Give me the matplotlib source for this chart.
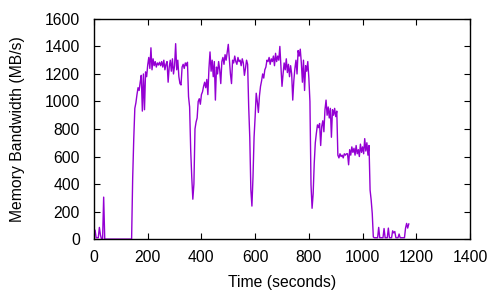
import matplotlib
matplotlib.use('Agg')
import matplotlib.pyplot as plt
import numpy as np

plt.rcParams['font.family'] = ['Liberation Sans', 'DejaVu Sans']

# memory bandwidth samples (MB/s), one sample every 4 seconds
step = 4
bw = [
    65, 65, 10, 10, 10, 85, 30, 0, 0, 305,                                  # 0-36
    0, 0, 0, 0, 0, 0, 0, 0, 0, 0,                                           # 40-76
    0, 0, 0, 0, 0, 0, 0, 0, 0, 0,                                           # 80-116
    0, 0, 0, 0, 0, 0,                                                       # 120-140
    441, 727, 950, 990, 1050, 1100, 1080, 1140, 1190, 930,                  # 144-180
    1200, 940, 1215, 1180, 1265, 1320, 1240, 1390, 1230, 1310,              # 184-220
    1260, 1290, 1250, 1280, 1265, 1285, 1260, 1290, 1250, 1300,             # 224-260
    1230, 1270, 1290, 1140, 1250, 1300, 1220, 1310, 1200, 1260,             # 264-300
    1420, 1230, 1300, 1180, 1130, 1120, 1250, 1270, 1240, 1280,             # 304-340
    1260, 1285, 1035, 960, 650, 450, 290, 400, 800, 850,                    # 344-380
    880, 1000, 1020, 980, 1050, 1070, 1110, 1140, 1100, 1160,               # 384-420
    1050, 1240, 1360, 1220, 1300, 1180, 1290, 1010, 1250, 1200,             # 424-460
    1290, 1230, 1130, 1290, 1320, 1270, 1340, 1300, 1360, 1415,             # 464-500
    1310, 1200, 1130, 1300, 1280, 1330, 1290, 1270, 1320, 1290,             # 504-540
    1300, 1260, 1310, 1280, 1190, 1240, 1300, 1270, 960, 740,               # 544-580
    360, 240, 450, 740, 890, 1060, 1000, 920, 1040, 1110,                   # 584-620
    1150, 1200, 1170, 1230, 1250, 1300, 1290, 1320, 1270, 1310,             # 624-660
    1290, 1330, 1260, 1350, 1290, 1330, 1300, 1400, 1250, 1110,             # 664-700
    1200, 1280, 1230, 1310, 1210, 1270, 1180, 1260, 1200, 1010,             # 704-740
    1150, 1240, 1300, 1200, 1370, 1330, 1380, 1280, 1140, 1300,             # 744-780
    1080, 1260, 1220, 1290, 1170, 1000, 395, 224, 330, 550,                 # 784-820
    700, 770, 830, 810, 840, 680, 820, 860, 780, 940,                       # 824-860
    1010, 900, 960, 880, 950, 740, 940, 900, 950, 890,                      # 864-900
    930, 610, 590, 620, 600, 610, 590, 620, 610, 620,                       # 904-940
    620, 540, 650, 610, 670, 630, 660, 610, 680, 620,                       # 944-980
    650, 600, 690, 630, 670, 620, 730, 640, 700, 610,                       # 984-1020
    680, 356, 284, 187, 15, 10, 10, 10, 10, 85,                             # 1024-1060
    10, 10, 10, 10, 77, 10, 10, 10, 80, 10,                                 # 1060-1096
    10, 10, 60, 45, 55, 10, 10, 10, 37, 10,                                 # 1100-1136
    10, 10, 10, 10, 80, 114, 80, 110,                                       # 1140-1168
]
t = np.arange(len(bw)) * step

xticks = [0, 200, 400, 600, 800, 1000, 1200, 1400]
yticks = [0, 200, 400, 600, 800, 1000, 1200, 1400, 1600]

fig = plt.figure(figsize=(5, 3), dpi=100)
ax = fig.add_axes([0.188, 0.203, 0.752, 0.734])

ax.plot(t, bw, color='#9400D3', linewidth=1.0)

ax.set_xlim(0, 1400)
ax.set_ylim(0, 1600)
ax.set_xticks(xticks)
ax.set_yticks(yticks)
ax.tick_params(direction='in', top=True, right=True, length=4, width=0.8,
               labelsize=11.3)
ax.tick_params(axis='x', pad=8)
ax.tick_params(axis='y', pad=10)
for s in ax.spines.values():
    s.set_linewidth(1.0)

ax.set_xlabel('Time (seconds)', fontsize=11.3, labelpad=7)
ax.set_ylabel('Memory Bandwidth (MB/s)', fontsize=11.3, labelpad=14)

fig.savefig('out.png', dpi=100)
